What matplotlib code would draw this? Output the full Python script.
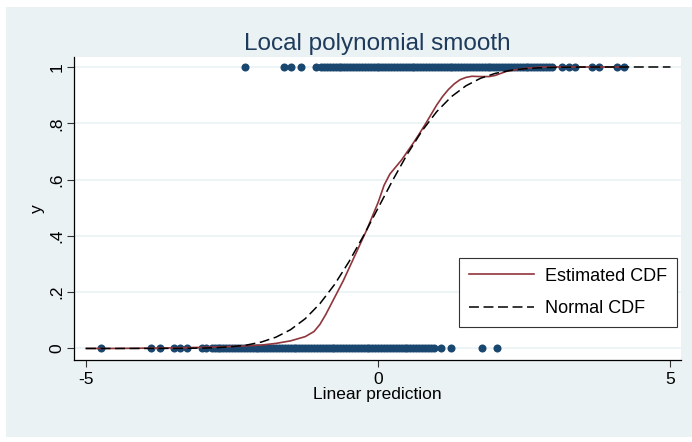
import matplotlib
matplotlib.use("Agg")
import matplotlib.pyplot as plt
from matplotlib.patches import Rectangle

plt.rcParams['font.family'] = ['Liberation Sans', 'DejaVu Sans']

# ---- data ----
x_y1 = [-2.28, -1.62, -1.49, -1.33, -1.06,
        -0.98, -0.93, -0.88, -0.83, -0.78, -0.73, -0.68, -0.63, -0.58, -0.53,
        -0.48, -0.43, -0.38, -0.33, -0.28, -0.23, -0.18, -0.13, -0.08, -0.03,
        0.02, 0.07, 0.12, 0.17, 0.22, 0.27, 0.32, 0.37, 0.42, 0.47, 0.52, 0.57,
        0.62, 0.67, 0.72, 0.77, 0.82, 0.87, 0.92, 0.97, 1.02, 1.07, 1.12, 1.17,
        1.22, 1.27, 1.32, 1.37, 1.42, 1.47, 1.52, 1.57, 1.62, 1.67, 1.72, 1.77,
        1.82, 1.87, 1.92, 1.97, 2.02, 2.07, 2.12, 2.17, 2.22, 2.27, 2.32, 2.37,
        2.42, 2.47, 2.52, 2.57, 2.62, 2.67, 2.72, 2.77, 2.82, 2.87, 2.92, 2.97,
        3.14, 3.26, 3.36, 3.65, 3.77, 4.08, 4.20]
x_y0 = [-4.75, -3.88, -3.74, -3.50, -3.40, -3.28, -3.02, -2.94,
        -2.85, -2.80, -2.75, -2.70, -2.65, -2.60, -2.55, -2.50, -2.45, -2.40,
        -2.35, -2.30, -2.25, -2.20, -2.15, -2.10, -2.05, -2.00, -1.95, -1.90,
        -1.85, -1.80, -1.75, -1.70, -1.65, -1.60, -1.55, -1.50, -1.45, -1.40,
        -1.35, -1.30, -1.25, -1.20, -1.15, -1.10, -1.05, -1.00, -0.95, -0.90,
        -0.85, -0.80, -0.75, -0.70, -0.65, -0.60, -0.55, -0.50, -0.45, -0.40,
        -0.35, -0.30, -0.25, -0.20, -0.15, -0.10, -0.05, 0.00, 0.05, 0.10,
        0.15, 0.20, 0.25, 0.30, 0.35, 0.40, 0.45, 0.50, 0.55, 0.60, 0.65,
        0.70, 0.75, 0.80, 0.85, 0.90, 0.95, 1.08, 1.25, 1.78, 2.04]

est_x = [-5.0, -4.5, -4.0, -3.5, -3.0, -2.5, -2.0, -1.75, -1.5, -1.25, -1.1,
         -1.0, -0.9, -0.8, -0.7, -0.6, -0.5, -0.4, -0.3, -0.2, -0.1, 0.0, 0.1,
         0.2, 0.3, 0.4, 0.5, 0.6, 0.7, 0.8, 0.9, 1.0, 1.1, 1.2, 1.3, 1.4, 1.5,
         1.6, 1.75, 1.9, 2.0, 2.2, 2.5, 2.8, 3.5, 4.2]
est_y = [0.0, 0.0, 0.001, 0.002, 0.004, 0.007, 0.012, 0.018, 0.027, 0.042,
         0.060, 0.085, 0.120, 0.160, 0.200, 0.240, 0.285, 0.330, 0.375, 0.420,
         0.470, 0.520, 0.580, 0.620, 0.645, 0.670, 0.700, 0.730, 0.762, 0.795,
         0.830, 0.865, 0.895, 0.920, 0.940, 0.955, 0.963, 0.967, 0.966, 0.966,
         0.970, 0.985, 0.995, 1.0, 1.0, 1.0]

norm_x = [-5.0, -4.75, -4.5, -4.25, -4.0, -3.75, -3.5, -3.25, -3.0, -2.75,
          -2.5, -2.25, -2.0, -1.75, -1.5, -1.25, -1.0, -0.75, -0.5, -0.25, 0.0,
          0.25, 0.5, 0.75, 1.0, 1.25, 1.5, 1.75, 2.0, 2.25, 2.5, 2.75, 3.0,
          3.25, 3.5, 3.75, 4.0, 4.25, 4.5, 4.75, 5.0]
norm_y = [0.0, 0.0, 0.0, 0.0, 0.00003, 0.0001, 0.0002, 0.0006, 0.0013, 0.0030,
          0.0062, 0.0122, 0.0228, 0.0401, 0.0668, 0.1056, 0.1587, 0.2266,
          0.3085, 0.4013, 0.5, 0.5987, 0.6915, 0.7734, 0.8413, 0.8944, 0.9332,
          0.9599, 0.9772, 0.9878, 0.9938, 0.9970, 0.9987, 0.9994, 0.9998,
          0.9999, 1.0, 1.0, 1.0, 1.0, 1.0]

xticks = [-5, 0, 5]
yticks = [0, 0.2, 0.4, 0.6, 0.8, 1]
ytick_labels = ['0', '.2', '.4', '.6', '.8', '1']

# ---- figure ----
W, H = 692, 442
fig = plt.figure(figsize=(W / 100, H / 100), dpi=100, facecolor='white')
bg = Rectangle((6 / W, (H - 437) / H), (692 - 6) / W, (437 - 7) / H,
               transform=fig.transFigure, facecolor='#EAF2F3', edgecolor='none', zorder=-10)
fig.patches.append(bg)

ax = fig.add_axes([74 / W, (H - 360) / H, (681 - 74) / W, (360 - 57) / H])
ax.set_facecolor('white')
ax.set_xlim(-5.206, 5.18)
ax.set_ylim(-0.041, 1.0355)

for yv in yticks:
    ax.axhline(yv, color='#EAF2F3', lw=1.2, zorder=0.5)

navy = '#1A476F'
ax.plot(x_y1, [1] * len(x_y1), 'o', color=navy, ms=5.8, mew=0, zorder=2)
ax.plot(x_y0, [0] * len(x_y0), 'o', color=navy, ms=5.8, mew=0, zorder=2)

ax.plot(est_x, est_y, color='#90353B', lw=1.2, zorder=3, label='Estimated CDF')
ax.plot(norm_x, norm_y, color='black', lw=1.1, dashes=(6.5, 3.0), zorder=3,
        label='Normal CDF')

for s in ['top', 'right']:
    ax.spines[s].set_visible(False)
for s in ['left', 'bottom']:
    ax.spines[s].set_color('black')
    ax.spines[s].set_linewidth(0.9)

ax.set_xticks(xticks)
ax.set_xticklabels([str(t) for t in xticks])
ax.set_yticks(yticks)
ax.set_yticklabels(ytick_labels, rotation=90, va='center')
ax.tick_params(axis='both', length=5, width=0.8, color='#333333', labelsize=12.5,
               labelcolor='black')
ax.tick_params(axis='x', pad=4)
ax.tick_params(axis='y', pad=2)
ax.set_xlabel('Linear prediction', fontsize=12.5, labelpad=0)
ax.set_ylabel('y', fontsize=12.5, labelpad=3)
ax.set_title('Local polynomial smooth', fontsize=17.5, color='#1E3A5C', pad=5)

leg = ax.legend(loc='lower right', bbox_to_anchor=(0.9934, 0.109), fontsize=13,
                frameon=True, fancybox=False, edgecolor='#333333', framealpha=1,
                borderpad=0.55, labelspacing=0.85, handlelength=3.6, handletextpad=0.6,
                borderaxespad=0)
leg.get_frame().set_linewidth(0.8)

fig.savefig('out.png', dpi=100, facecolor='white')
